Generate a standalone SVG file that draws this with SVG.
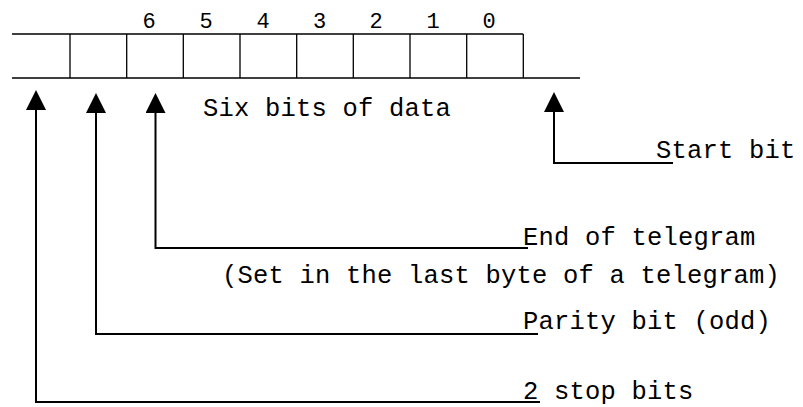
<svg xmlns="http://www.w3.org/2000/svg" width="803" height="407" viewBox="0 0 803 407">
  <style>
    .frame { fill: none; stroke: #000; stroke-width: 1.3; }
    .conn { fill: none; stroke: #000; stroke-width: 2; marker-end: url(#head); }
    .lbl { font-family: "Liberation Mono", "DejaVu Sans Mono", monospace; font-size: 25.5px; letter-spacing: 0.2px; fill: #000; }
    .num { font-family: "Liberation Mono", "DejaVu Sans Mono", monospace; font-size: 22px; fill: #000; text-anchor: middle; }
  </style>
  <defs>
    <marker id="head" viewBox="0 0 20 20" refX="0" refY="10" markerWidth="20" markerHeight="20" markerUnits="userSpaceOnUse" orient="auto">
      <path d="M0,0 L20,10 L0,20 Z" fill="#000"/>
    </marker>
  </defs>
  <rect width="803" height="407" fill="#fff"/>

  <g id="register">
    <path class="frame" d="M12,34 H523.3 M12,78 H580 M70,34 V78 M126.7,34 V78 M183.3,34 V78 M240,34 V78 M296.7,34 V78 M353.3,34 V78 M410,34 V78 M466.7,34 V78 M523.3,34 V78"/>
    <text class="num" x="149" y="28">6</text>
    <text class="num" x="206" y="28">5</text>
    <text class="num" x="263" y="28">4</text>
    <text class="num" x="319.5" y="28">3</text>
    <text class="num" x="376" y="28">2</text>
    <text class="num" x="433" y="28">1</text>
    <text class="num" x="489" y="28">0</text>
  </g>

  <g id="data-label">
    <text class="lbl" x="203" y="116">Six bits of data</text>
  </g>

  <g id="start-bit">
    <text class="lbl" x="656" y="158">Start bit</text>
  </g>

  <g id="end-of-telegram">
    <text class="lbl" x="523" y="245">End of telegram</text>
    <text class="lbl" x="222" y="283">(Set in the last byte of a telegram)</text>
  </g>

  <g id="parity-bit">
    <text class="lbl" x="523" y="329">Parity bit (odd)</text>
  </g>

  <g id="stop-bits">
    <text class="lbl" x="523" y="399">2 stop bits</text>
  </g>

  <g id="connectors">
    <path class="conn" d="M673,163 H554 V112"/>
    <path class="conn" d="M528,248 H155.5 V113"/>
    <path class="conn" d="M538,334 H96 V113"/>
    <path class="conn" d="M540,402 H36 V110"/>
  </g>
</svg>
